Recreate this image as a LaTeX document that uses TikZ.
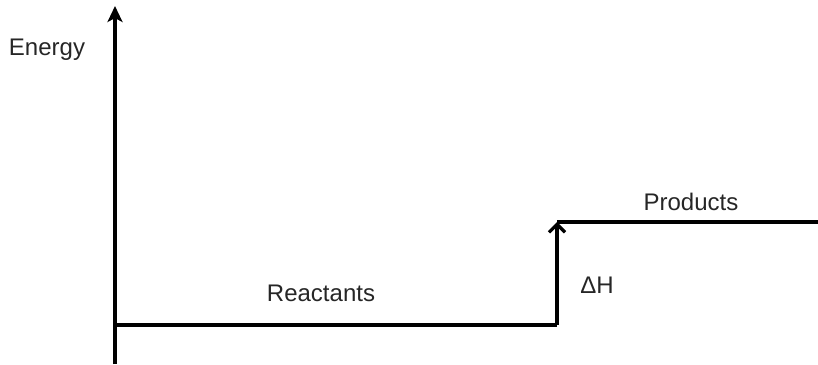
\documentclass[tikz,border=0pt]{standalone}
\usepackage{fontspec}
\setmainfont{Liberation Sans}
\usetikzlibrary{arrows.meta}
\begin{document}
\begin{tikzpicture}[x=1pt,y=-1pt,
  line/.style={line width=3.2pt, color=black},
  lbl/.style={font=\fontsize{24}{28}\selectfont, text=black!85, inner sep=0pt}]
\useasboundingbox (0,0) rectangle (818,364);
\coordinate (o) at (115,325);
\coordinate (top) at (115,6);
\coordinate (bot) at (115,364);
\coordinate (r) at (557,325);
\coordinate (p) at (557,222);
\coordinate (pe) at (818,222);
\draw[line, -{Stealth[length=16pt,width=15pt,inset=4pt]}] (bot) -- (top);
\draw[line] (o) -- (r);
\draw[line, -{Straight Barb[length=8pt,width=16pt]}] (r) -- (p);
\draw[line] (p) -- (pe);
\node[lbl] (energy) at (47,50) {Energy};
\node[lbl] (react) at (321,293) {Reactants};
\node[lbl] (dh) at (597,285) {ΔH};
\node[lbl] (prod) at (691,202) {Products};
\end{tikzpicture}
\end{document}
